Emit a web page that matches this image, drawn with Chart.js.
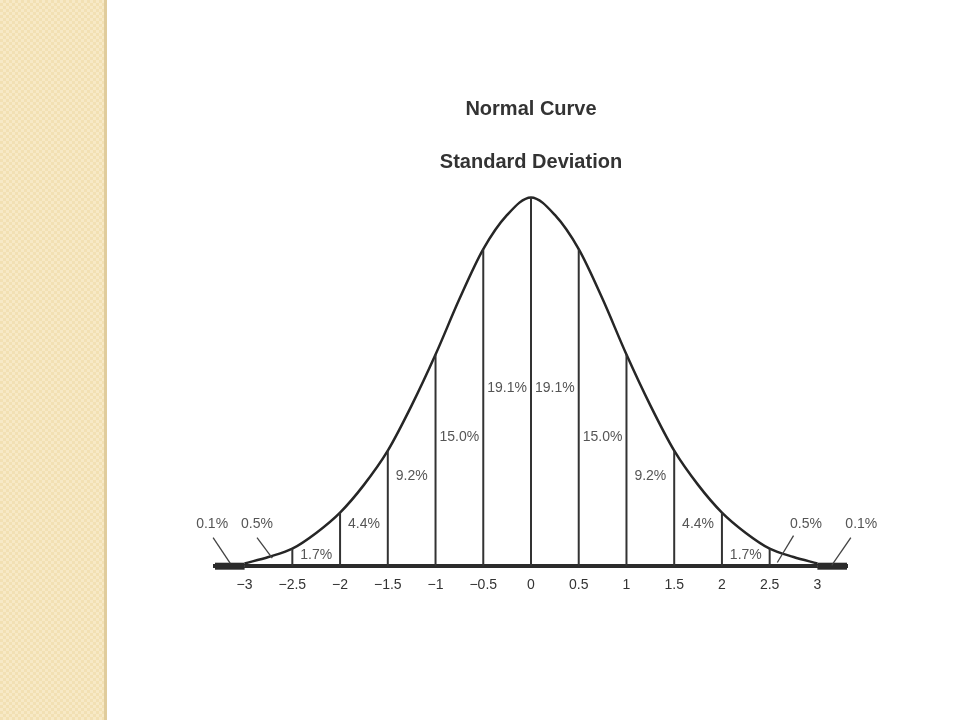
<!DOCTYPE html>
<html lang="en">
<head>
  <meta charset="UTF-8">
  <title>Normal Curve</title>
  <script src="https://cdn.jsdelivr.net/npm/chart.js@4.4.1/dist/chart.umd.min.js"></script>
  <style>
    body {
      margin: 0;
      padding: 0;
      background-color: #ffffff;
      font-family: 'Liberation Sans', Arial, sans-serif;
    }

    /* beige textured strip on the left */
    .strip {
      position: absolute;
      left: 0;
      top: 0;
      width: 104px;
      height: 720px;
      background: repeating-conic-gradient(#f2e0b3 0 25%, #f7e9c6 0 50%) 0 0 / 6px 6px;
      border-right: 3px solid #e0cc9c;
    }

    .chart-box {
      position: absolute;
      left: 0;
      top: 0;
      width: 960px;
      height: 720px;
    }
  </style>
</head>
<body>
  <div class="strip"></div>
  <div class="chart-box">
    <canvas id="normalChart"></canvas>
  </div>

  <script>
  // curve (height above the axis, in density units)
  const zPoints = [-3, -2.75, -2.5, -2.25, -2, -1.75, -1.5, -1.25, -1, -0.75, -0.5, -0.25, 0,
                   0.25, 0.5, 0.75, 1, 1.25, 1.5, 1.75, 2, 2.25, 2.5, 2.75, 3];
  const curveHeights = [0.003, 0.010, 0.019, 0.036, 0.058, 0.088, 0.125, 0.174, 0.229, 0.289, 0.343, 0.380, 0.399,
                        0.380, 0.343, 0.289, 0.229, 0.174, 0.125, 0.088, 0.058, 0.036, 0.019, 0.010, 0.003];

  // standard deviation ticks and the vertical dividers
  const sdTicks = [-3, -2.5, -2, -1.5, -1, -0.5, 0, 0.5, 1, 1.5, 2, 2.5, 3];
  const dividers = [-2.5, -2, -1.5, -1, -0.5, 0, 0.5, 1, 1.5, 2, 2.5];

  // share of cases in each band
  const bandLabels = ['0.1%', '0.5%', '1.7%', '4.4%', '9.2%', '15.0%', '19.1%',
                      '19.1%', '15.0%', '9.2%', '4.4%', '1.7%', '0.5%', '0.1%'];

  const heightAt = z => curveHeights[zPoints.indexOf(z)];

  const datasets = [];

  // tails of the axis beyond +-3
  [[-3.31, -3], [3, 3.31]].forEach(function (t) {
    datasets.push({
      data: [{x: t[0], y: 0}, {x: t[1], y: 0}],
      showLine: true, borderColor: '#2b2b2b', borderWidth: 7, pointRadius: 0, clip: false
    });
    datasets.push({
      data: [{x: t[0], y: 0}, {x: t[1], y: 0}],
      showLine: true, borderColor: '#8a8a8a', borderWidth: 2, pointRadius: 0, clip: false
    });
  });

  dividers.forEach(function (z) {
    datasets.push({
      data: [{x: z, y: 0}, {x: z, y: heightAt(z)}],
      showLine: true, borderColor: '#333', borderWidth: 2, pointRadius: 0, clip: false
    });
  });

  datasets.push({
    data: zPoints.map((z, i) => ({x: z, y: curveHeights[i]})),
    showLine: true,
    borderColor: '#262626',
    borderWidth: 2.5,
    pointRadius: 0,
    cubicInterpolationMode: 'monotone',
    clip: false
  });

  // where the band labels sit (z, height) and leader lines for the tails
  const labelSpots = [[-3.34, 0.045], [-2.87, 0.045], [-2.25, 0.012], [-1.75, 0.0454], [-1.25, 0.0973],
                      [-0.75, 0.1395], [-0.25, 0.1925], [0.25, 0.1925], [0.75, 0.1395], [1.25, 0.0973],
                      [1.75, 0.0454], [2.25, 0.012], [2.88, 0.045], [3.46, 0.045]];
  const leaders = [[-3.33, 0.031, -3.15, 0.003], [-2.87, 0.031, -2.71, 0.0087],
                   [2.75, 0.033, 2.58, 0.004], [3.35, 0.031, 3.15, 0.001]];

  const bandText = {
    id: 'bandText',
    afterDatasetsDraw(chart) {
      const ctx = chart.ctx;
      const xs = chart.scales.x, ys = chart.scales.y;
      ctx.save();
      ctx.strokeStyle = '#444';
      ctx.lineWidth = 1.3;
      leaders.forEach(function (l) {
        ctx.beginPath();
        ctx.moveTo(xs.getPixelForValue(l[0]), ys.getPixelForValue(l[1]));
        ctx.lineTo(xs.getPixelForValue(l[2]), ys.getPixelForValue(l[3]));
        ctx.stroke();
      });
      ctx.fillStyle = '#555';
      ctx.font = '14px "Liberation Sans", Arial, sans-serif';
      ctx.textAlign = 'center';
      ctx.textBaseline = 'middle';
      bandLabels.forEach(function (t, i) {
        ctx.fillText(t, xs.getPixelForValue(labelSpots[i][0]), ys.getPixelForValue(labelSpots[i][1]));
      });
      ctx.restore();
    }
  };

  const ctx = document.getElementById('normalChart').getContext('2d');
  new Chart(ctx, {
    type: 'scatter',
    data: { datasets: datasets },
    plugins: [bandText],
    options: {
      responsive: true,
      maintainAspectRatio: false,
      animation: false,
      layout: {
        padding: { left: 215, right: 113, top: 0, bottom: 115 }
      },
      plugins: {
        legend: { display: false },
        tooltip: { enabled: false },
        title: {
          display: true,
          text: 'Normal Curve',
          color: '#333',
          font: { size: 20, weight: 'bold', family: '"Liberation Sans", Arial, sans-serif' },
          padding: { top: 97, bottom: 29 }
        },
        subtitle: {
          display: true,
          text: 'Standard Deviation',
          color: '#333',
          font: { size: 20, weight: 'bold', family: '"Liberation Sans", Arial, sans-serif' },
          padding: { top: 0, bottom: 4 }
        }
      },
      scales: {
        x: {
          type: 'linear',
          min: -3.31,
          max: 3.31,
          afterBuildTicks: function (scale) {
            scale.ticks = sdTicks.map(v => ({ value: v }));
          },
          grid: { display: false, drawTicks: false },
          border: { display: true, color: '#2b2b2b', width: 4 },
          ticks: {
            color: '#333',
            padding: 11,
            font: { size: 14, family: '"Liberation Sans", Arial, sans-serif' },
            callback: v => (v < 0 ? '\u2212' + Math.abs(v) : String(v))
          }
        },
        y: {
          display: false,
          min: 0,
          max: 0.42
        }
      }
    }
  });
  </script>
</body>
</html>
